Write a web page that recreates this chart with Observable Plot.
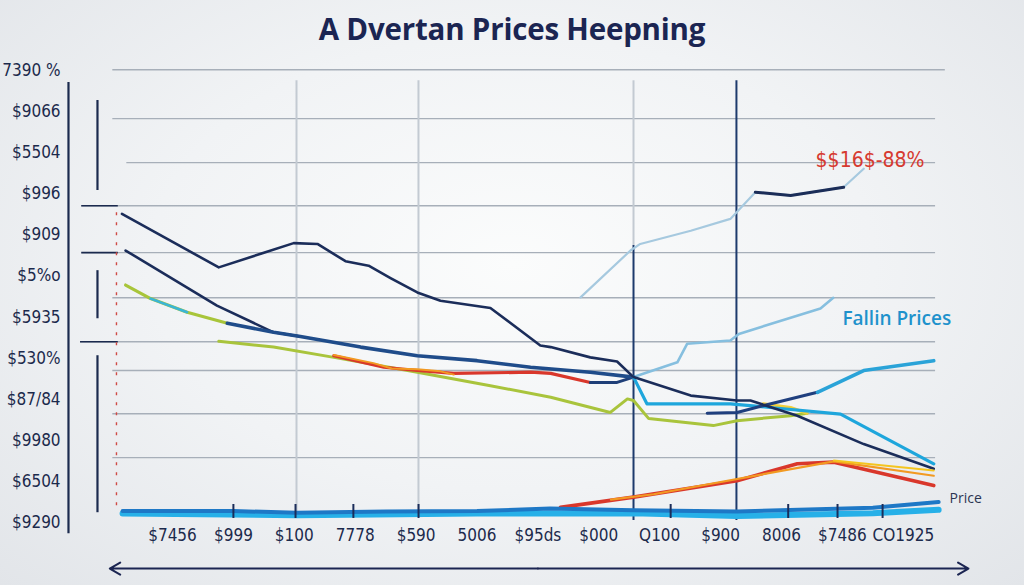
<!DOCTYPE html>
<html><head><meta charset="utf-8">
<script src="https://cdn.jsdelivr.net/npm/d3@7"></script>
<script src="https://cdn.jsdelivr.net/npm/@observablehq/plot@0.6"></script>
<style>
html,body{margin:0;padding:0;width:1024px;height:585px;overflow:hidden}
body{background:radial-gradient(ellipse at 50% 45%,#fbfcfc 0%,#f1f3f5 50%,#e2e5e9 100%)}
#title{height:56px;line-height:58px;text-align:center;font-family:"Open Sans",Lato,sans-serif;font-weight:700;font-size:29.5px;color:#1b2552;letter-spacing:-0.2px}
#chart svg{display:block}
</style></head><body>
<div id="title">A Dvertan Prices Heepning</div>
<div id="chart"></div>
<script>
// ---- tick labels ----
const xTickLabels = ["$7456","$999","$100","7778","$590","5006","$95ds","$000","Q100","$900","8006","$7486","CO1925"];
const yTickValues = [0,10,20,30,40,50,60,70,80,90,100,110];
const yTickLabels = ["$9290","$6504","$9980","$87/84","$530%","$5935","$5%o","$909","$996","$5504","$9066","7390 %"];

// ---- series (x = category index, y = value) ----
const navyA = [[-0.83,75.1],[0.76,62.1],[1.99,68.0],[2.38,67.8],[2.84,63.6],[3.22,62.5],[3.58,59.5],[4.02,56.0],[4.40,54.0],[5.22,52.2],[6.04,43.1],[6.21,42.7],[6.86,40.2],[7.30,39.2],[7.57,35.4],[8.51,30.9],[9.27,29.7],[9.49,29.7],[10.26,26.0],[11.35,19.1],[12.50,13.1]];
const navyB = [[-0.77,66.2],[0.73,52.8],[1.66,46.3],[2.10,45.3]];
const blueB = [[0.90,48.5],[1.66,46.3],[2.10,45.3],[3.09,42.7],[4.02,40.6],[5.00,39.4],[5.88,37.8],[6.86,36.6],[7.57,35.4]];
const greenC = [[-0.77,57.8],[-0.36,54.5],[0.24,51.2],[0.90,48.5]];
const cyanC = [[-0.36,54.5],[0.24,51.2]];
const greenD = [[0.76,44.1],[1.66,42.7],[2.65,40.2],[4.02,36.6],[5.22,33.3],[6.21,30.5],[7.19,26.8],[7.47,30.1],[7.57,29.7],[7.82,25.3],[8.88,23.6],[9.27,24.8],[10.15,26.0],[10.42,26.6]];
const yellowD = [[9.70,28.9],[10.15,28.0],[10.42,26.6]];
const redE = [[2.65,40.6],[3.47,37.8],[4.02,37.0],[4.62,36.3],[5.88,36.6],[6.21,36.3],[6.86,34.1]];
const orangeE = [[2.65,40.8],[3.30,38.8],[3.60,37.5],[4.02,37.3],[4.40,36.8],[4.62,36.0]];
const navyE = [[6.86,34.1],[7.30,34.1],[7.57,35.4]];
const lightBlueTop = [[6.70,54.8],[7.52,66.2],[7.68,67.8],[8.51,71.0],[9.16,73.9],[9.57,80.4],[10.15,79.6],[11.02,81.6],[11.35,86.1]];
const navyTop = [[9.57,80.4],[10.15,79.6],[11.02,81.6]];
const lightBlueMid = [[7.57,35.4],[8.29,39.0],[8.45,43.5],[9.16,44.3],[9.30,45.9],[10.64,52.1],[10.85,54.7]];
const cyanF = [[7.57,35.4],[7.79,28.9],[9.16,28.9],[10.97,26.4],[12.50,14.3]];
const risingNavy = [[8.78,26.6],[9.27,26.8],[9.71,28.5],[10.59,31.7]];
const risingCyan = [[10.59,31.7],[11.35,37.0],[12.50,39.4]];
const redG = [[6.37,3.7],[7.57,6.2],[9.27,10.2],[10.26,14.3],[10.86,14.7],[12.50,9.0]];
const orangeG = [[7.2,5.6],[7.9,6.9],[10.86,14.9],[12.50,11.4]];
const yellowG = [[10.86,15.1],[12.50,12.7]];
const baseBlue = [[-0.82,2.8],[1.0,2.8],[2.04,2.4],[3.5,2.7],[5.0,2.8],[6.2,3.4],[7.57,3.0],[9.27,2.7],[11.5,3.6],[12.58,5.0]];
const baseCyan = [[-0.82,2.2],[2.04,1.8],[5.0,2.2],[7.57,2.3],[9.27,1.6],[11.5,2.3],[12.58,3.1]];

// ---- annotations ----
const annotations = [
  {x:10.56, y:88.1, text:"$$16$-88%", kind:"red"},
  {x:11.0, y:49.6, text:"Fallin Prices", kind:"blue"},
  {x:12.76, y:5.8, text:"Price", kind:"dark"}
];

// ---- grid and decorations (data units) ----
const gridRows = [[110.2,-0.98,12.69],[98.3,-0.98,12.53],[87.6,-0.75,12.53],[77.1,-1.49,12.53],[65.7,-1.49,12.53],[54.7,-0.98,12.53],[44.0,-1.51,12.53],[37.0,-0.98,12.53],[26.5,-0.98,12.53],[15.8,-0.98,12.53]];
const gridCols = [[2.036,2.2,107.5],[4.039,2.2,107.5],[7.57,67.4,107.5]];
const darkCols = [[7.57,0.5,67.4],[9.26,0.5,107.5]];
const leftBars = [[-1.708,-2.7,107.1],[-1.232,80.8,102.7],[-1.232,49.6,61.3],[-1.232,2.4,40.6]];
const redDotted = [[-0.92,4.1,75.4]];
const baseTicks = [1.0,2.02,2.97,4.04,8.18,10.11,10.92,11.66];
const axisArrows = [[6,-1.03,-11.2],[6,13.07,-11.2]];

const FONT = '"Liberation Sans Narrow","DejaVu Sans Condensed",Roboto,sans-serif';
const L = (pts, stroke, w, o={}) => Plot.line(pts, {x:d=>d[0], y:d=>d[1], stroke, strokeWidth:w, strokeLinejoin:"round", strokeLinecap:"round", ...o});

const chart = Plot.plot({
  width:1024, height:529,
  marginLeft:111.1, marginRight:60.3, marginTop:5.8, marginBottom:13.6,
  x:{domain:[-1,13], axis:null},
  y:{domain:[-12,112]},
  style:{background:"transparent", overflow:"visible", fontFamily:FONT},
  marks:[
    Plot.ruleY(gridRows, {y:d=>d[0], x1:d=>d[1], x2:d=>d[2], stroke:"#a7afb9", strokeWidth:1.4}),
    Plot.ruleX(gridCols, {x:d=>d[0], y1:d=>d[1], y2:d=>d[2], stroke:"#c3cad2", strokeWidth:2}),
    Plot.ruleX(darkCols, {x:d=>d[0], y1:d=>d[1], y2:d=>d[2], stroke:"#1d3a6c", strokeWidth:2}),
    Plot.ruleX(leftBars, {x:d=>d[0], y1:d=>d[1], y2:d=>d[2], stroke:"#1b2a4e", strokeWidth:2.2}),
    Plot.ruleY(gridRows.filter(d=>d[1]<-1.4), {y:d=>d[0], x1:d=>d[1], x2:-0.89, stroke:"#1b2a4e", strokeWidth:1.6}),
    Plot.ruleX(redDotted, {x:d=>d[0], y1:d=>d[1], y2:d=>d[2], stroke:"#cf4a45", strokeWidth:1.4, strokeDasharray:"3,7"}),
    // lines
    L(lightBlueTop, "#a6c9df", 2.2),
    L(lightBlueMid, "#86bfdf", 2.6),
    L(navyTop, "#1b2d58", 3),
    L(greenD, "#a9c43c", 3),
    L(yellowD, "#f1cf3a", 3),
    L(redE, "#d9372b", 3.2),
    L(orangeE, "#f29a22", 2),
    L(navyE, "#1f3f78", 3),
    L(greenC, "#a8c53a", 3.2),
    L(cyanC, "#3ab5d6", 2.6),
    L(navyB, "#1b2d5a", 2.6),
    L(blueB, "#1f4c8a", 3.6),
    L(cyanF, "#1ea6dc", 3.2),
    L(risingNavy, "#1f3f7e", 3),
    L(risingCyan, "#2aa3d8", 3.6),
    L(navyA, "#1b2d5a", 2.6),
    L(redG, "#d9372b", 3.6),
    L(orangeG, "#f29a22", 2.2),
    L(yellowG, "#f4c51f", 2),
    L(baseCyan, "#27b0e8", 6),
    L(baseBlue, "#1e78c6", 4),
    Plot.ruleX(baseTicks, {x:d=>d, y1:1.0, y2:4.4, stroke:"#1b2d5a", strokeWidth:2}),
    // bottom axis arrow
    Plot.arrow(axisArrows, {x1:d=>d[0], y1:d=>d[2], x2:d=>d[1], y2:d=>d[2], stroke:"#1b2552", strokeWidth:2, headLength:9, bend:0}),
    // axes text
    Plot.axisY(yTickValues, {tickFormat:d=>yTickLabels[d/10], tickSize:0, tickPadding:51, fontSize:17, fill:"#1c2a4c", label:null}),
    Plot.text(xTickLabels, {x:(d,i)=>i, y:-3.2, text:d=>d, fontSize:17, fill:"#1c2a4c"}),
    // annotations
    Plot.text(annotations.filter(d=>d.kind==="red"), {x:"x", y:"y", text:"text", textAnchor:"start", fontSize:21, fill:"#d63a30"}),
    Plot.text(annotations.filter(d=>d.kind==="blue"), {x:"x", y:"y", text:"text", textAnchor:"start", fontSize:19, fontWeight:600, fill:"#1e92cc", fontFamily:'"Open Sans",sans-serif'}),
    Plot.text(annotations.filter(d=>d.kind==="dark"), {x:"x", y:"y", text:"text", textAnchor:"start", fontSize:14, fill:"#2b3552", fontFamily:'"Open Sans",sans-serif'})
  ]
});
document.getElementById("chart").appendChild(chart);
</script>
</body></html>
